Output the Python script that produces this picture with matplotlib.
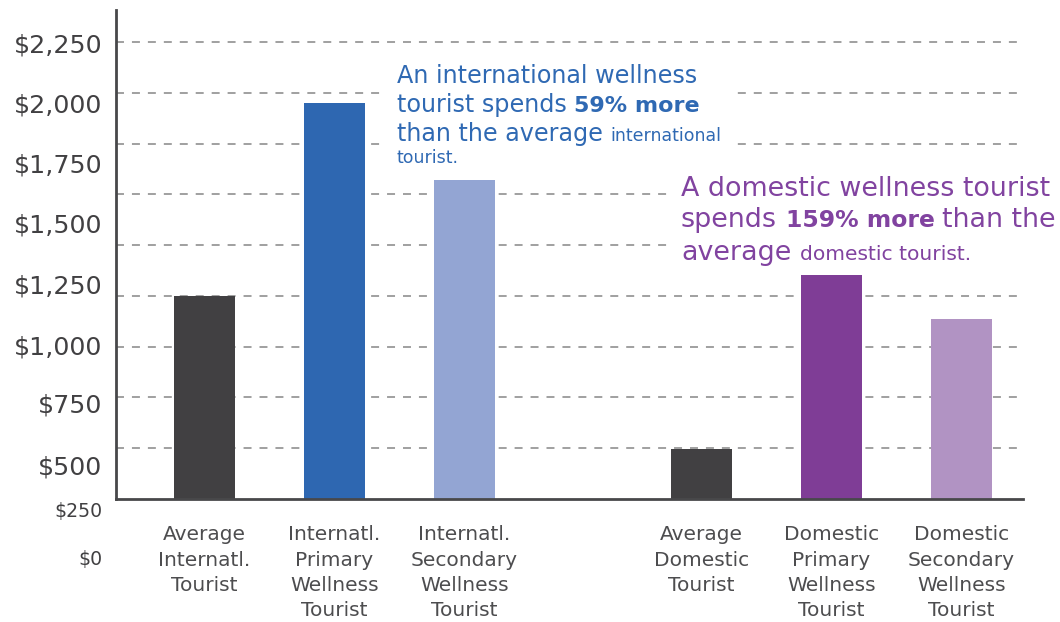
import matplotlib
matplotlib.use("Agg")
import matplotlib.pyplot as plt
from matplotlib.patches import Rectangle

# ---------------- data ----------------
categories = [
    "Average\nInternatl.\nTourist",
    "Internatl.\nPrimary\nWellness\nTourist",
    "Internatl.\nSecondary\nWellness\nTourist",
    "Average\nDomestic\nTourist",
    "Domestic\nPrimary\nWellness\nTourist",
    "Domestic\nSecondary\nWellness\nTourist",
]
spend = [1000, 1950, 1570, 246, 1103, 886]
grid_values = [250, 500, 750, 1000, 1250, 1500, 1750, 2000, 2250]
ytick_labels = ["$2,250", "$2,000", "$1,750", "$1,500", "$1,250",
                "$1,000", "$750", "$500", "$250", "$0"]

# ---------------- style / layout ----------------
bar_colors = ["#414042", "#2E67B1", "#93A5D3", "#414042", "#7F3D96", "#B193C3"]
x_pos = [0, 1, 2, 3.823, 4.823, 5.823]
FONT = ["DejaVu Sans"]
BLUE = "#2F69B3"
PURPLE = "#8143A0"
TXT = "#4D4D4F"

W, H = 1060, 622
fig = plt.figure(figsize=(W / 100, H / 100), dpi=100)
ax = fig.add_axes([116 / W, 1 - 499 / H, (1023 - 116) / W, (499 - 10) / H])

ax.bar(x_pos, spend, width=0.47, color=bar_colors, zorder=2)
ax.set_xlim(-0.6808, 6.296)
ax.set_ylim(0, 2407.5)

ax.set_yticks(grid_values)
ax.set_yticklabels([])
ax.tick_params(axis="y", length=0)
ax.yaxis.grid(True, color="#A0A0A0", linewidth=1.4, linestyle=(0, (4.1, 4.1)))
ax.set_axisbelow(True)

ax.set_xticks(x_pos)
ax.set_xticklabels(categories, fontsize=14.5, color=TXT, family=FONT,
                   linespacing=1.42)
ax.tick_params(axis="x", length=0, pad=19.0)

for s in ["top", "right"]:
    ax.spines[s].set_visible(False)
for s in ["left", "bottom"]:
    ax.spines[s].set_color("#48484A")
    ax.spines[s].set_linewidth(2.0)

# y labels (placed as in the original infographic)
ylabel_baselines = [53, 113, 173, 233, 293, 354, 413, 474, 517, 565]
ylabel_sizes = [18.3] * 8 + [13.6, 13.6]
for lab, yb, sz in zip(ytick_labels, ylabel_baselines, ylabel_sizes):
    fig.text(102 / W, 1 - yb / H, lab, ha="right", va="baseline",
             fontsize=sz, color="#414042", family=FONT)

# white boxes behind callouts
for (x0, y0, x1, y1) in [(384, 50, 737, 172), (667, 168, 1060, 272)]:
    ax.add_patch(Rectangle((x0 / W, 1 - y1 / H), (x1 - x0) / W, (y1 - y0) / H,
                           transform=fig.transFigure, facecolor="white",
                           edgecolor="none", zorder=1.5, clip_on=False))

renderer = fig.canvas.get_renderer()


def space_width(size, weight):
    a = fig.text(0, 0, "x x", fontsize=size, fontweight=weight, family=FONT)
    b = fig.text(0, 0, "xx", fontsize=size, fontweight=weight, family=FONT)
    w = a.get_window_extent(renderer).width - b.get_window_extent(renderer).width
    a.remove()
    b.remove()
    return w


def rich_line(x, y, pieces, color):
    cur = x
    prev = None
    for txt, size, weight, sp in pieces:
        if sp and prev is not None:
            cur += space_width(prev[0], "normal")
        t = fig.text(cur / W, 1 - y / H, txt, fontsize=size, fontweight=weight,
                     color=color, va="baseline", ha="left", family=FONT, zorder=5)
        cur = t.get_window_extent(renderer).x1
        prev = (size, weight)


BB, BBOLD, BS = 17.2, 16.0, 12.5
blue_lines = [
    [("An international wellness", BB, "normal", False)],
    [("tourist spends", BB, "normal", False), ("59% more", BBOLD, "bold", True)],
    [("than the average", BB, "normal", False), ("international", BS, "normal", True)],
    [("tourist.", BS, "normal", False)],
]
for yb, line in zip([83, 112, 141, 163], blue_lines):
    rich_line(397, yb, line, BLUE)

PB, PBOLD, PS = 19.4, 16.9, 14.6
purple_lines = [
    [("A domestic wellness tourist", PB, "normal", False)],
    [("spends", PB, "normal", False), ("159% more", PBOLD, "bold", True),
     ("than the", PB, "normal", True)],
    [("average", PB, "normal", False), ("domestic tourist.", PS, "normal", True)],
]
for yb, line in zip([196, 227, 260], purple_lines):
    rich_line(681, yb, line, PURPLE)

fig.savefig("out.png", dpi=100)
